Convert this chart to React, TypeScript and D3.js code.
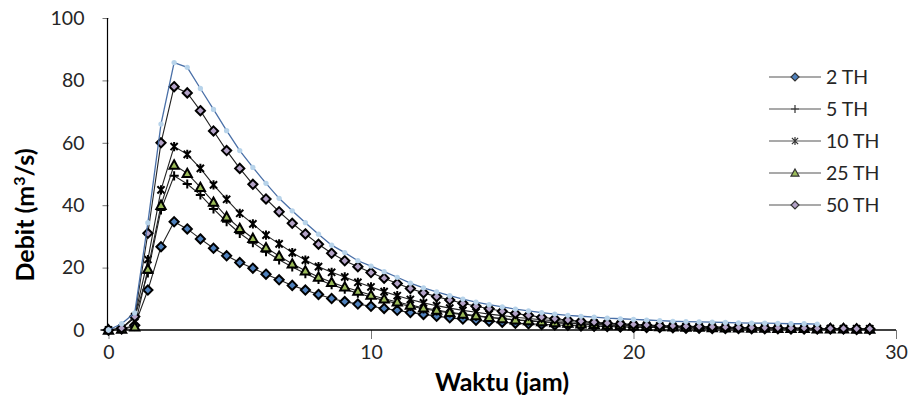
import React, { useRef, useEffect } from "react";
import * as d3 from "d3";

const W = 915;
const H = 405;

// waktu (jam), step 0.5
const waktu = [
  0, 0.5, 1, 1.5, 2, 2.5, 3, 3.5, 4, 4.5,
  5, 5.5, 6, 6.5, 7, 7.5, 8, 8.5, 9, 9.5,
  10, 10.5, 11, 11.5, 12, 12.5, 13, 13.5, 14, 14.5,
  15, 15.5, 16, 16.5, 17, 17.5, 18, 18.5, 19, 19.5,
  20, 20.5, 21, 21.5, 22, 22.5, 23, 23.5, 24, 24.5,
  25, 25.5, 26, 26.5, 27, 27.5, 28, 28.5, 29,
];

const q2 = [
  0, 0.3, 1.5, 12.8, 26.7, 34.7, 32.4, 29.2, 26.2, 23.8,
  21.6, 19.8, 17.9, 16.1, 14.3, 12.8, 11.4, 10.1, 9.1, 8.3,
  7.6, 6.9, 6.3, 5.6, 5.0, 4.4, 3.9, 3.5, 3.1, 2.8,
  2.5, 2.2, 2.0, 1.8, 1.6, 1.5, 1.3, 1.2, 1.1, 1.0,
  0.9, 0.8, 0.8, 0.7, 0.6, 0.6, 0.5, 0.5, 0.5, 0.4,
  0.4, 0.4, 0.3, 0.3, 0.3, 0.3, 0.3, 0.2, 0.2,
];

const q5 = [
  0, 0.4, 4.0, 18.3, 38.5, 49.4, 46.8, 43.3, 38.8, 34.7,
  31.0, 28.0, 25.1, 22.5, 20.2, 18.1, 16.2, 14.5, 13.1, 11.8,
  10.6, 9.5, 8.5, 7.6, 6.8, 6.1, 5.5, 4.9, 4.4, 4.0,
  3.6, 3.2, 2.9, 2.6, 2.3, 2.1, 1.9, 1.7, 1.6, 1.4,
  1.3, 1.2, 1.1, 1.0, 0.9, 0.8, 0.8, 0.7, 0.6, 0.6,
  0.6, 0.5, 0.5, 0.4, 0.4, 0.4, 0.4, 0.3, 0.3,
];

const q10 = [
  0, 0.5, 4.3, 22.6, 44.9, 58.8, 56.3, 51.8, 46.5, 41.9,
  37.4, 34.0, 30.4, 27.6, 24.8, 22.4, 20.3, 18.5, 17.0, 15.3,
  13.8, 12.3, 11.0, 9.8, 8.7, 7.8, 7.0, 6.3, 5.7, 5.1,
  4.6, 4.1, 3.7, 3.3, 3.0, 2.7, 2.4, 2.2, 2.0, 1.8,
  1.6, 1.5, 1.3, 1.2, 1.1, 1.0, 0.9, 0.9, 0.8, 0.7,
  0.7, 0.6, 0.6, 0.5, 0.5, 0.5, 0.4, 0.4, 0.4,
];

const q25 = [
  0, 0.3, 1.0, 19.5, 40.0, 52.9, 50.2, 45.7, 41.0, 36.3,
  32.6, 29.4, 26.4, 23.7, 21.2, 19.0, 17.0, 15.3, 13.8, 12.5,
  11.2, 10.0, 9.0, 8.0, 7.1, 6.4, 5.7, 5.1, 4.6, 4.1,
  3.7, 3.3, 3.0, 2.7, 2.4, 2.2, 2.0, 1.8, 1.6, 1.5,
  1.3, 1.2, 1.1, 1.0, 0.9, 0.9, 0.8, 0.7, 0.7, 0.6,
  0.6, 0.5, 0.5, 0.5, 0.4, 0.4, 0.4, 0.3, 0.3,
];

const q50 = [
  0, 0.6, 4.3, 31.0, 60.0, 78.0, 76.0, 70.3, 63.8, 57.5,
  51.8, 46.7, 42.0, 37.9, 34.2, 30.8, 27.5, 24.6, 22.2, 20.3,
  18.4, 16.6, 14.9, 13.3, 11.9, 10.7, 9.6, 8.6, 7.6, 6.8,
  6.0, 5.3, 4.7, 4.1, 3.6, 3.2, 2.8, 2.5, 2.2, 2.0,
  1.8, 1.6, 1.4, 1.3, 1.2, 1.1, 1.0, 0.9, 0.8, 0.8,
  0.7, 0.7, 0.6, 0.6, 0.5, 0.5, 0.5, 0.4, 0.4,
];

// top curve without a legend entry (ends at 27 jam)
const q100 = [
  0, 2.0, 5.5, 34.4, 66.0, 85.7, 84.2, 77.4, 70.7, 63.9,
  57.5, 52.1, 47.0, 42.2, 38.2, 34.4, 30.7, 27.2, 24.8, 22.2,
  20.5, 18.7, 16.9, 15.0, 13.5, 12.2, 11.0, 9.9, 8.9, 8.1,
  7.4, 6.7, 6.1, 5.6, 5.1, 4.7, 4.4, 4.1, 3.8, 3.6,
  3.4, 3.2, 3.0, 2.8, 2.7, 2.6, 2.5, 2.4, 2.3, 2.2,
  2.2, 2.1, 2.0, 2.0, 1.9,
];

const seriesLabels = ["2 TH", "5 TH", "10 TH", "25 TH", "50 TH", ""];
const xTicks = [0, 10, 20, 30];
const yTicks = [0, 20, 40, 60, 80, 100];

const FONT = "Lato, 'Open Sans', sans-serif";

const styles = [
  { marker: "diamond", fill: "#4f81bd", stroke: "#000", line: "#222" },
  { marker: "plus", fill: "none", stroke: "#000", line: "#222" },
  { marker: "star", fill: "none", stroke: "#000", line: "#222" },
  { marker: "triangle", fill: "#9bbb59", stroke: "#000", line: "#222" },
  { marker: "diamond", fill: "#b3a2c7", stroke: "#000", line: "#222" },
  { marker: "dot", fill: "#b7d3ea", stroke: "none", line: "#4a70a8" },
];

const markerPath = (kind: string, s: number) => {
  if (kind === "diamond") return `M0,${-s}L${s},0L0,${s}L${-s},0Z`;
  if (kind === "triangle") return `M0,${-s}L${s},${s * 0.8}L${-s},${s * 0.8}Z`;
  if (kind === "plus") return `M${-s},0H${s}M0,${-s}V${s}`;
  if (kind === "star") {
    const a = s * 0.78;
    return `M${-a},${-a}L${a},${a}M${-a},${a}L${a},${-a}M0,${-s}V${s}`;
  }
  return d3.symbol().type(d3.symbolCircle).size(s * s * 3)() as string;
};

const App = () => {
  const svgRef = useRef<SVGSVGElement>(null);

  useEffect(() => {
    const svg = d3.select(svgRef.current);
    svg.selectAll("*").remove();

    const x = d3.scaleLinear().domain([0, 30]).range([108.5, 896]);
    const y = d3.scaleLinear().domain([0, 100]).range([330, 18]);

    const allSeries = [q2, q5, q10, q25, q50, q100];

    // y axis
    const gy = svg
      .append("g")
      .attr("transform", `translate(${x(0)},0)`)
      .call(d3.axisLeft(y).tickValues(yTicks).tickSize(6).tickPadding(18));
    gy.select(".domain").remove();
    gy.selectAll(".tick line").attr("stroke", "#777");
    gy.selectAll(".tick text")
      .attr("font-family", FONT)
      .attr("font-size", 19.5)
      .attr("fill", "#262626");

    // x axis
    const gx = svg
      .append("g")
      .attr("transform", `translate(0,${y(0)})`)
      .call(d3.axisBottom(x).tickValues(xTicks).tickSize(9).tickPadding(6));
    gx.select(".domain").remove();
    gx.selectAll(".tick line").attr("stroke", "#777");
    gx.selectAll(".tick text")
      .attr("font-family", FONT)
      .attr("font-size", 19.5)
      .attr("fill", "#262626");

    svg
      .append("line")
      .attr("x1", x(0) - 1)
      .attr("x2", x(0) - 1)
      .attr("y1", y(100))
      .attr("y2", y(0))
      .attr("stroke", "#000")
      .attr("stroke-width", 1.2);
    svg
      .append("line")
      .attr("x1", x(0) - 8)
      .attr("x2", x(30))
      .attr("y1", y(0))
      .attr("y2", y(0))
      .attr("stroke", "#000")
      .attr("stroke-width", 1.6);

    // titles
    svg
      .append("text")
      .attr("transform", `translate(34,${215}) rotate(-90)`)
      .attr("text-anchor", "middle")
      .attr("font-family", FONT)
      .attr("font-weight", "bold")
      .attr("font-size", 25)
      .attr("fill", "#000")
      .call((t) => {
        t.append("tspan").text("Debit (m");
        t.append("tspan").attr("dy", -9).attr("font-size", 16).text("3");
        t.append("tspan").attr("dy", 9).text("/s)");
      });
    svg
      .append("text")
      .attr("x", 502)
      .attr("y", 391)
      .attr("text-anchor", "middle")
      .attr("font-family", FONT)
      .attr("font-weight", "bold")
      .attr("font-size", 25)
      .attr("fill", "#000")
      .text("Waktu (jam)");

    const line = d3
      .line<number>()
      .x((d, i) => x(waktu[i]))
      .y((d) => y(d));

    allSeries.forEach((data, si) => {
      const st = styles[si];
      const g = svg.append("g");
      g.append("path")
        .attr("d", line(data))
        .attr("fill", "none")
        .attr("stroke", st.line)
        .attr("stroke-width", si === 5 ? 1.3 : 1.1);
      g.selectAll("path.m")
        .data(data)
        .join("path")
        .attr("class", "m")
        .attr("transform", (d, i) => `translate(${x(waktu[i])},${y(d)})`)
        .attr("d", markerPath(st.marker, si === 5 ? 2.7 : 4.6))
        .attr("fill", st.fill)
        .attr("stroke", st.stroke)
        .attr("stroke-width", 2);
    });

    // legend
    const legend = svg
      .append("g")
      .selectAll("g")
      .data(seriesLabels.filter((l) => l !== ""))
      .join("g")
      .attr("transform", (d, i) => `translate(769,${77 + i * 32})`);
    legend
      .append("line")
      .attr("x1", 0)
      .attr("x2", 52)
      .attr("stroke", "#555")
      .attr("stroke-width", 1.2);
    legend
      .append("path")
      .attr("transform", "translate(26,0)")
      .attr("d", (d, i) => markerPath(styles[i].marker, 4))
      .attr("fill", (d, i) => styles[i].fill)
      .attr("stroke", "#333")
      .attr("stroke-width", 1.2);
    legend
      .append("text")
      .attr("x", 57)
      .attr("dy", "0.36em")
      .attr("font-family", FONT)
      .attr("font-size", 19.5)
      .attr("fill", "#262626")
      .text((d) => d);
  }, []);

  return (
    <svg
      ref={svgRef}
      width={W}
      height={H}
      style={{ position: "absolute", left: 0, top: 0, background: "#fff" }}
    />
  );
};

export default App;
